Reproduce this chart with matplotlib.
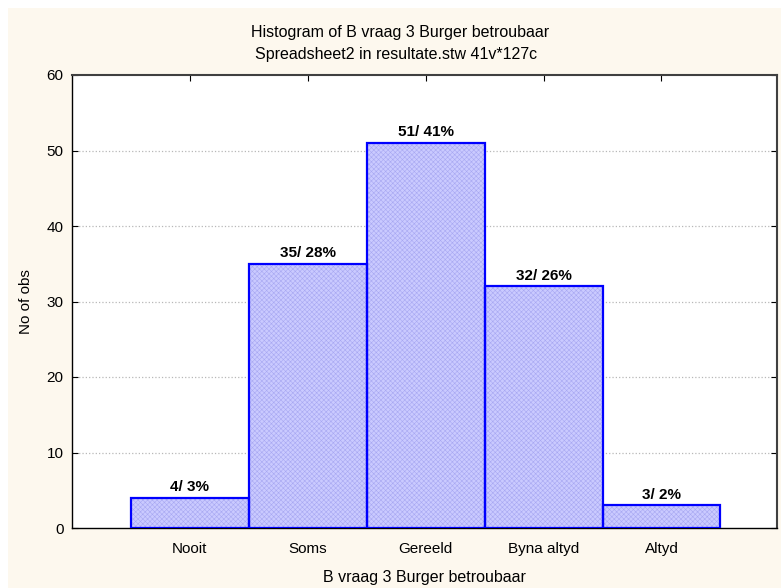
import numpy as np
import matplotlib
matplotlib.use('Agg')
import matplotlib.pyplot as plt
import matplotlib.patches as patches

plt.rcParams['font.family'] = ['Liberation Sans', 'DejaVu Sans']
plt.rcParams['hatch.linewidth'] = 0.4

# Datos
categorias = ['Nooit', 'Soms', 'Gereeld', 'Byna altyd', 'Altyd']
conteos = [4, 35, 51, 32, 3]
porcentajes = [3, 28, 41, 26, 2]
y_ticks = [0, 10, 20, 30, 40, 50, 60]

fig = plt.figure(figsize=(7.81, 5.88), dpi=100)
fig.set_facecolor('white')
# fondo crema con borde blanco arriba/izquierda
fig.patches.append(patches.Rectangle((8 / 781, 0), 1, 1 - 8 / 588, transform=fig.transFigure,
                                     facecolor='#FDF8EE', edgecolor='none', zorder=-10))

ax = fig.add_axes([72 / 781, 1 - 528 / 588, 705 / 781, 453 / 588])
ax.set_facecolor('white')

x = np.arange(len(categorias))
# relleno con trama
ax.bar(x, conteos, width=1.0, color='#CACAFF', edgecolor='#A8A8F2', linewidth=0,
       hatch='xxxxxxx', zorder=2)
# contorno azul
ax.bar(x, conteos, width=1.0, fill=False, edgecolor='#0000FF', linewidth=1.6, zorder=3)

for xi, c, p in zip(x, conteos, porcentajes):
    ax.text(xi, c + 0.5, f'{c}/ {p}%', ha='center', va='bottom', fontsize=11, fontweight='bold')

ax.set_xlim(-1, 4.98)
ax.set_ylim(0, 60)
ax.set_yticks(y_ticks)
ax.set_xticks(x)
ax.set_xticklabels(categorias, fontsize=11)
ax.tick_params(axis='y', labelsize=11, direction='in', length=4, right=True, pad=6)
ax.tick_params(axis='x', direction='in', length=4, top=True, pad=10)

for yv in y_ticks[1:-1]:
    ax.axhline(yv, color='#B8B8B8', linestyle=':', linewidth=0.9, zorder=1)

for s in ['left', 'bottom']:
    ax.spines[s].set_color('black')
    ax.spines[s].set_linewidth(1.0)
for s in ['top', 'right']:
    ax.spines[s].set_color('#404040')
    ax.spines[s].set_linewidth(1.5)

ax.set_xlabel('B vraag 3 Burger betroubaar', fontsize=11.5, labelpad=10)
ax.set_ylabel('No of obs', fontsize=11, labelpad=10)

fig.text(400 / 781, 1 - 33 / 588, 'Histogram of B vraag 3 Burger betroubaar', ha='center', va='center', fontsize=11.5)
fig.text(396 / 781, 1 - 54 / 588, 'Spreadsheet2 in resultate.stw 41v*127c', ha='center', va='center', fontsize=11.5)

plt.savefig('out.png', dpi=100)
